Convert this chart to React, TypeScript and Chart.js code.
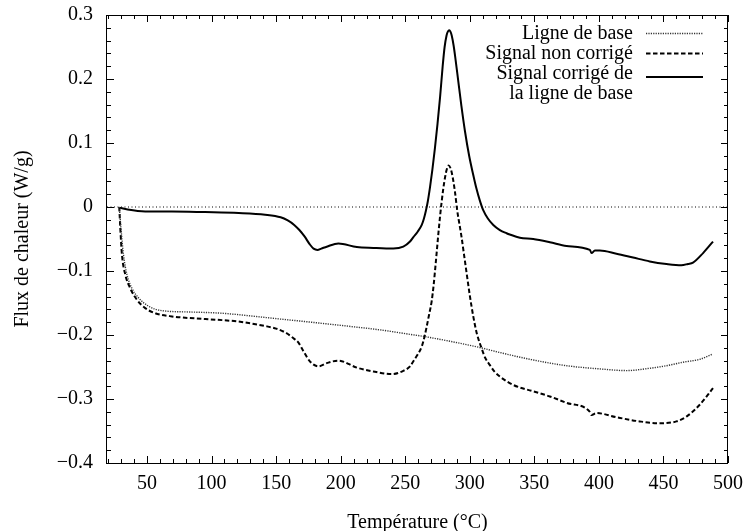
import React, { useEffect, useRef } from 'react';
import { Chart, registerables } from 'chart.js';

Chart.register(...registerables);

const FONT = '"Liberation Serif", "Times New Roman", serif';

// Axis ticks
const xTicks = [50, 100, 150, 200, 250, 300, 350, 400, 450, 500];
const yTicks = [-0.4, -0.3, -0.2, -0.1, 0, 0.1, 0.2, 0.3];

// Ligne de base (dotted)
const baseTemp = [28.5, 29.8, 31.8, 34.5, 38.3, 43.5, 51.2, 61.6, 82.2, 108, 133.8, 153.1, 172.4, 204.7, 230.5, 253.7, 266.6, 307.8, 323.3, 346.6, 375, 400.7, 421.4, 439.4, 452.3, 465.2, 478.1, 488];
const baseFlux = [0, -0.033, -0.075, -0.106, -0.127, -0.142, -0.155, -0.162, -0.164, -0.166, -0.171, -0.175, -0.179, -0.186, -0.192, -0.199, -0.203, -0.2196, -0.2274, -0.238, -0.248, -0.253, -0.2556, -0.252, -0.248, -0.2425, -0.238, -0.23];

// Signal non corrigé (dashed)
const rawTemp = [28.5, 29.3, 30.6, 33.2, 37, 42.2, 48.6, 56.4, 69.3, 95, 120.8, 141.5, 150, 157, 163.4, 167.3, 171.1, 176.3, 182.7, 189.2, 198.2, 212.5, 225.3, 239.5, 248.5, 253.7, 256.3, 259.5, 262.8, 265, 266.6, 268.5, 270.5, 272, 273.1, 274.5, 275.6, 277, 278.2, 279.5, 280.8, 282.2, 283.6, 285.2, 286.7, 288.5, 290.3, 292, 293.7, 295.5, 297.6, 300, 302.7, 305.5, 309.2, 312, 315.6, 319, 323.3, 333.6, 349.1, 362, 375, 393, 394.3, 398.1, 413.6, 431.6, 447.1, 460, 467.8, 478.1, 488.4];
const rawFlux = [0, -0.033, -0.075, -0.106, -0.127, -0.145, -0.158, -0.166, -0.171, -0.175, -0.179, -0.186, -0.19, -0.196, -0.205, -0.212, -0.225, -0.2415, -0.249, -0.244, -0.24, -0.251, -0.257, -0.261, -0.256, -0.249, -0.241, -0.231, -0.218, -0.202, -0.187, -0.168, -0.147, -0.122, -0.099, -0.068, -0.043, -0.014, 0.008, 0.029, 0.046, 0.059, 0.065, 0.06, 0.047, 0.024, -0.006, -0.027, -0.048, -0.074, -0.104, -0.138, -0.171, -0.198, -0.221, -0.236, -0.247, -0.257, -0.265, -0.278, -0.288, -0.296, -0.306, -0.32, -0.325, -0.322, -0.3285, -0.335, -0.338, -0.335, -0.3275, -0.309, -0.283];

// Signal corrigé de la ligne de base (solid)
const corrTemp = [28.5, 35, 48.6, 69.3, 95, 121, 141.5, 153.5, 159, 164, 168, 172, 176.3, 179, 182, 185, 189.2, 198.2, 212.5, 225.3, 240.8, 248.5, 253.7, 256.3, 259.5, 262.8, 264.5, 266, 267.5, 269.2, 271, 273, 275, 277, 279, 280.5, 282, 283, 284.1, 285, 286, 287.5, 289, 291, 293.5, 296.3, 299.5, 302.7, 305, 307.8, 310.4, 314, 318.2, 323.3, 328.5, 331, 338.8, 349.1, 362, 375, 393, 394.3, 396.9, 400.7, 413.6, 426.5, 439.4, 452.3, 463.9, 469, 472.9, 480.7, 488.4];
const corrFlux = [-0.001, -0.004, -0.007, -0.007, -0.008, -0.0094, -0.012, -0.016, -0.021, -0.028, -0.036, -0.046, -0.059, -0.065, -0.067, -0.065, -0.062, -0.057, -0.0626, -0.064, -0.065, -0.062, -0.054, -0.047, -0.039, -0.028, -0.018, -0.006, 0.009, 0.031, 0.058, 0.092, 0.13, 0.172, 0.22, 0.25, 0.268, 0.274, 0.276, 0.274, 0.268, 0.252, 0.23, 0.198, 0.158, 0.118, 0.08, 0.05, 0.03, 0.01, -0.005, -0.018, -0.028, -0.036, -0.041, -0.043, -0.048, -0.05, -0.055, -0.061, -0.067, -0.072, -0.068, -0.068, -0.073, -0.079, -0.085, -0.089, -0.091, -0.089, -0.087, -0.072, -0.054];

const labels = ['Ligne de base', 'Signal non corrigé', 'Signal corrigé de\nla ligne de base'];

const toPts = (t: number[], v: number[]) => t.map((x, i) => ({ x, y: v[i] }));

const fmtY = (v: number) => {
  if (Math.abs(v) < 1e-9) return '0';
  const s = Math.abs(v).toFixed(1);
  return v < 0 ? '\u2212' + s : s;
};

const framePlugin = {
  id: 'frameTicks',
  afterDraw(chart: any) {
    const { ctx, chartArea: a, scales } = chart;
    const xs = scales.x;
    const ys = scales.y;
    ctx.save();
    ctx.strokeStyle = '#000';
    ctx.lineWidth = 1;
    const major = 7;
    const minor = 4;
    ctx.beginPath();
    for (let v = 20; v <= 500; v += 10) {
      const px = Math.round(xs.getPixelForValue(v)) + 0.5;
      const len = v % 50 === 0 ? major : minor;
      ctx.moveTo(px, a.bottom);
      ctx.lineTo(px, a.bottom - len);
      ctx.moveTo(px, a.top);
      ctx.lineTo(px, a.top + len);
    }
    for (let i = 0; i <= 35; i++) {
      const v = -0.4 + i * 0.02;
      const py = Math.round(ys.getPixelForValue(v)) + 0.5;
      const len = i % 5 === 0 ? major : minor;
      ctx.moveTo(a.left, py);
      ctx.lineTo(a.left + len, py);
      ctx.moveTo(a.right, py);
      ctx.lineTo(a.right - len, py);
    }
    ctx.stroke();
    ctx.strokeRect(Math.round(a.left) - 0.5, Math.round(a.top) + 0.5, Math.round(a.right - a.left), Math.round(a.bottom - a.top));

    // legend
    ctx.font = `20px ${FONT}`;
    ctx.fillStyle = '#000';
    ctx.textAlign = 'right';
    ctx.textBaseline = 'middle';
    const textRight = 633;
    const s0 = 646;
    const s1 = 703;
    const rowY = [34, 54, 73.5, 93.5];
    const sampleY = [33.5, 53.5, 77];
    let row = 0;
    let entry = 0;
    chart.data.datasets.forEach((ds: any) => {
      if (!ds.inLegend) return;
      const lines = String(ds.label).split('\n');
      lines.forEach((ln: string, k: number) => {
        ctx.fillText(ln, textRight, rowY[row + k]);
      });
      ctx.save();
      ctx.strokeStyle = ds.borderColor;
      ctx.lineWidth = ds.borderWidth;
      ctx.setLineDash(ds.borderDash || []);
      ctx.beginPath();
      ctx.moveTo(s0, sampleY[entry]);
      ctx.lineTo(s1, sampleY[entry]);
      ctx.stroke();
      ctx.restore();
      row += lines.length;
      entry += 1;
    });
    ctx.restore();
  },
};

export default function App() {
  const ref = useRef<HTMLCanvasElement | null>(null);
  useEffect(() => {
    if (!ref.current) return;
    const chart = new Chart(ref.current, {
      type: 'line',
      data: {
        datasets: [
          {
            label: 'zero',
            data: [{ x: 19, y: 0 }, { x: 500, y: 0 }],
            borderColor: '#000',
            borderWidth: 1,
            borderDash: [1, 2.5],
            pointRadius: 0,
            inLegend: false,
          } as any,
          {
            label: labels[0],
            data: toPts(baseTemp, baseFlux),
            borderColor: '#333',
            borderWidth: 1.4,
            borderDash: [1.2, 1.2],
            pointRadius: 0,
            cubicInterpolationMode: 'monotone',
            inLegend: true,
          } as any,
          {
            label: labels[1],
            data: toPts(rawTemp, rawFlux),
            borderColor: '#000',
            borderWidth: 2,
            borderDash: [4.5, 2.5],
            pointRadius: 0,
            cubicInterpolationMode: 'monotone',
            inLegend: true,
          } as any,
          {
            label: labels[2],
            data: toPts(corrTemp, corrFlux),
            borderColor: '#000',
            borderWidth: 2,
            pointRadius: 0,
            cubicInterpolationMode: 'monotone',
            inLegend: true,
          } as any,
        ],
      },
      options: {
        animation: false,
        responsive: false,
        devicePixelRatio: 1,
        parsing: false,
        layout: { padding: { top: 15, right: 23, left: 0, bottom: 0 } },
        plugins: { legend: { display: false }, tooltip: { enabled: false } },
        scales: {
          x: {
            type: 'linear',
            min: 19,
            max: 500,
            grid: { display: false, drawTicks: false },
            border: { display: false },
            afterBuildTicks: (s: any) => {
              s.ticks = xTicks.map((v) => ({ value: v }));
            },
            afterFit: (s: any) => {
              s.height = 68;
              s.paddingLeft = 0;
              s.paddingRight = 0;
            },
            ticks: {
              color: '#000',
              font: { family: FONT, size: 20 },
              padding: 9,
              maxRotation: 0,
              autoSkip: false,
              callback: (v: any) => String(v),
            },
            title: {
              display: true,
              text: 'Température (°C)',
              color: '#000',
              font: { family: FONT, size: 20, lineHeight: 0.8 },
              padding: 0,
            },
          },
          y: {
            type: 'linear',
            min: -0.4,
            max: 0.3,
            grid: { display: false, drawTicks: false },
            border: { display: false },
            afterBuildTicks: (s: any) => {
              s.ticks = yTicks.map((v) => ({ value: v }));
            },
            afterFit: (s: any) => {
              s.width = 107;
              s.paddingTop = 0;
              s.paddingBottom = 0;
            },
            ticks: {
              color: '#000',
              font: { family: FONT, size: 20 },
              padding: 14,
              autoSkip: false,
              callback: (v: any) => fmtY(Number(v)),
            },
            title: {
              display: true,
              text: 'Flux de chaleur (W/g)',
              color: '#000',
              font: { family: FONT, size: 20, lineHeight: 1 },
              padding: { top: 12.5, bottom: 0 },
            },
          },
        },
      },
      plugins: [framePlugin],
    } as any);
    return () => chart.destroy();
  }, []);
  return (
    <div style={{ position: 'absolute', left: 0, top: 0, width: 751, height: 531 }}>
      <canvas ref={ref} width={751} height={531} style={{ width: 751, height: 531 }} />
    </div>
  );
}
